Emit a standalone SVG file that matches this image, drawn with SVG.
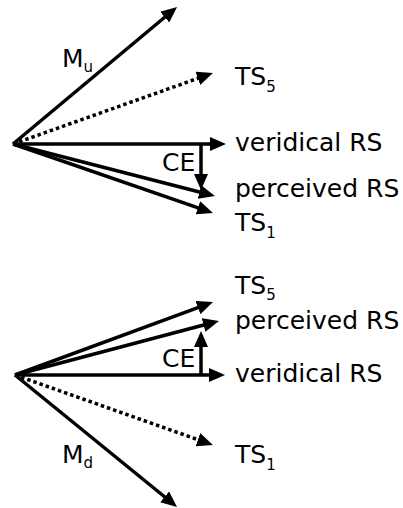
<svg xmlns="http://www.w3.org/2000/svg" width="403" height="508" viewBox="0 0 403 508">
  <style>
    .vec { stroke: #000; stroke-width: 3.5; fill: none; marker-end: url(#head); }
    .dot { stroke-dasharray: 3.5 3; }
    text { font-family: "DejaVu Sans", Verdana, sans-serif; font-size: 25px; fill: #000; }
    .sub { font-size: 15px; }
  </style>
  <defs>
    <marker id="head" markerUnits="userSpaceOnUse" markerWidth="16" markerHeight="14" viewBox="0 0 16 14" refX="5" refY="7" orient="auto">
      <path d="M0,0 L16,7 L0,14 z" fill="#000"/>
    </marker>
  </defs>

  <!-- upward motion panel -->
  <g id="connectors-top">
    <line class="vec" x1="13" y1="144" x2="168.6" y2="14.0"/>
    <line class="vec dot" x1="13" y1="144" x2="202.6" y2="76.7"/>
    <line class="vec" x1="13" y1="144" x2="215" y2="144"/>
    <line class="vec" x1="13" y1="144" x2="204.3" y2="193.2"/>
    <line class="vec" x1="13" y1="144" x2="202.6" y2="209.4"/>
    <line class="vec" x1="201" y1="144" x2="201" y2="179"/>
  </g>
  <g id="label-Mu"><text x="62" y="67">M<tspan class="sub" dy="5">u</tspan></text></g>
  <g id="label-TS5-top"><text x="235" y="85">TS<tspan class="sub" dy="7">5</tspan></text></g>
  <g id="label-veridical-top"><text x="235" y="151">veridical RS</text></g>
  <g id="label-CE-top"><text x="162" y="171">CE</text></g>
  <g id="label-perceived-top"><text x="235" y="197">perceived RS</text></g>
  <g id="label-TS1-top"><text x="235" y="231">TS<tspan class="sub" dy="7">1</tspan></text></g>

  <!-- downward motion panel -->
  <g id="connectors-bottom">
    <line class="vec" x1="15" y1="375" x2="202.7" y2="305.9"/>
    <line class="vec" x1="15" y1="375" x2="208.4" y2="323.8"/>
    <line class="vec" x1="15" y1="375" x2="214" y2="375"/>
    <line class="vec" x1="201" y1="375" x2="201" y2="342"/>
    <line class="vec dot" x1="15" y1="375" x2="202.6" y2="441.3"/>
    <line class="vec" x1="15" y1="375" x2="168.5" y2="500.0"/>
  </g>
  <g id="label-TS5-bottom"><text x="235" y="294">TS<tspan class="sub" dy="6">5</tspan></text></g>
  <g id="label-perceived-bottom"><text x="235" y="329">perceived RS</text></g>
  <g id="label-CE-bottom"><text x="162" y="367">CE</text></g>
  <g id="label-veridical-bottom"><text x="235" y="382">veridical RS</text></g>
  <g id="label-TS1-bottom"><text x="235" y="463">TS<tspan class="sub" dy="7">1</tspan></text></g>
  <g id="label-Md"><text x="62" y="463">M<tspan class="sub" dy="5">d</tspan></text></g>
</svg>
